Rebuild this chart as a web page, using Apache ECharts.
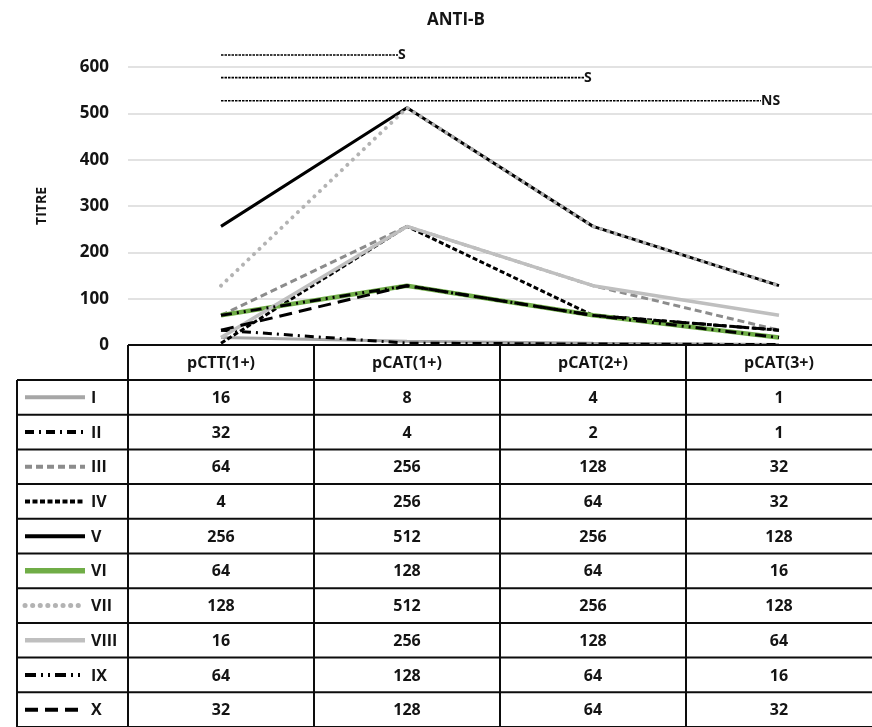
<!DOCTYPE html>
<html>
<head>
<meta charset="utf-8">
<script src="https://cdn.jsdelivr.net/npm/echarts@6/dist/echarts.min.js"></script>
<style>
  html, body { margin: 0; padding: 0; background: #fff; }
  #chart { width: 872px; height: 727px; }
</style>
</head>
<body>
<div id="chart"></div>
<script>
// Phases on the x axis
const categories = ['pCTT(1+)', 'pCAT(1+)', 'pCAT(2+)', 'pCAT(3+)'];

// Anti-B titres per subject
const seriesNames = ['I', 'II', 'III', 'IV', 'V', 'VI', 'VII', 'VIII', 'IX', 'X'];
const titreI    = [16, 8, 4, 1];
const titreII   = [32, 4, 2, 1];
const titreIII  = [64, 256, 128, 32];
const titreIV   = [4, 256, 64, 32];
const titreV    = [256, 512, 256, 128];
const titreVI   = [64, 128, 64, 16];
const titreVII  = [128, 512, 256, 128];
const titreVIII = [16, 256, 128, 64];
const titreIX   = [64, 128, 64, 16];
const titreX    = [32, 128, 64, 32];
const seriesValues = [titreI, titreII, titreIII, titreIV, titreV,
                      titreVI, titreVII, titreVIII, titreIX, titreX];

// Y axis range
const yMin = 0, yMax = 600, yStep = 100;

// Significance brackets: level on the titre scale, end phase, label
const sigLevels = [626, 577, 527];
const sigEnds   = [1, 2, 3];
const sigLabels = ['S', 'S', 'NS'];

// Line appearance per subject
const lineLooks = [
  { color: '#a6a6a6', width: 3,   type: 'solid' },
  { color: '#000000', width: 3,   type: [9, 5, 2, 5] },
  { color: '#8c8c8c', width: 3,   type: [7, 4] },
  { color: '#000000', width: 3,   type: [5, 2.5] },
  { color: '#000000', width: 3,   type: 'solid' },
  { color: '#70ad47', width: 4.5, type: 'solid' },
  { color: '#b3b3b3', width: 4,   type: [0.1, 7.5], cap: 'round' },
  { color: '#bfbfbf', width: 3.5, type: 'solid' },
  { color: '#000000', width: 3,   type: [11, 5, 2, 5, 2, 5] },
  { color: '#000000', width: 3,   type: [13, 7] }
];

const FONT = '"Open Sans", "Liberation Sans", sans-serif';
const INK = '#141414';

const chart = echarts.init(document.getElementById('chart'), null, { renderer: 'canvas' });

const option = {
  animation: false,
  backgroundColor: '#ffffff',
  title: {
    text: 'ANTI-B',
    left: 451, top: 7,
    textAlign: 'center',
    textStyle: { fontFamily: FONT, fontWeight: 'bold', fontSize: 17, color: INK }
  },
  grid: { left: 128, right: -8, top: 67, bottom: 382, containLabel: false },
  xAxis: {
    type: 'category',
    data: categories,
    boundaryGap: true,
    axisLine: { show: false },
    axisTick: { show: false },
    axisLabel: { show: false },
    splitLine: { show: false }
  },
  yAxis: {
    type: 'value',
    min: yMin, max: yMax, interval: yStep,
    name: 'TITRE',
    nameLocation: 'middle',
    nameRotate: 90,
    nameGap: 79,
    nameTextStyle: { fontFamily: FONT, fontWeight: 'bold', fontSize: 14, color: INK },
    axisLine: { show: false },
    axisTick: { show: false },
    axisLabel: { fontFamily: FONT, fontWeight: 'bold', fontSize: 17, color: INK, margin: 19 },
    splitLine: { lineStyle: { color: '#d9d9d9', width: 1.5 } }
  },
  series: seriesNames.map((name, i) => ({
    name: name,
    type: 'line',
    data: seriesValues[i],
    symbol: 'none',
    z: 2 + i,
    lineStyle: {
      color: lineLooks[i].color,
      width: lineLooks[i].width,
      type: lineLooks[i].type,
      cap: lineLooks[i].cap || 'butt'
    }
  }))
};

chart.setOption(option);

// ---- data table under the plot, aligned with the category bands ----
const W = 872, H = 727;
const px = (ci, v) => chart.convertToPixel({ gridIndex: 0 }, [ci, v]);
const centers = categories.map((c, i) => px(i, 0)[0]);
const band = centers[1] - centers[0];
const tableTop = px(0, 0)[1];
const colEdges = centers.map(c => c - band / 2);
const legendLeft = 17;
const headerH = 35;
const rowH = (H - tableTop - headerH) / seriesNames.length;
const border = { stroke: '#0d0d0d', lineWidth: 2 };
const cellFont = 'bold 16px ' + FONT;

const graphics = [];

// horizontal rules
graphics.push({ type: 'line', shape: { x1: colEdges[0], y1: tableTop, x2: W, y2: tableTop }, style: border, z: 50 });
for (let r = 0; r <= seriesNames.length; r++) {
  const y = tableTop + headerH + r * rowH;
  graphics.push({ type: 'line', shape: { x1: legendLeft, y1: y, x2: W, y2: y }, style: border, z: 50 });
}
// vertical rules
graphics.push({ type: 'line', shape: { x1: legendLeft, y1: tableTop + headerH, x2: legendLeft, y2: H }, style: border, z: 50 });
colEdges.forEach(x => {
  graphics.push({ type: 'line', shape: { x1: x, y1: tableTop, x2: x, y2: H }, style: border, z: 50 });
});

// header cells
categories.forEach((c, i) => {
  graphics.push({
    type: 'text', z: 51,
    style: { text: c, x: centers[i], y: tableTop + headerH / 2 + 1, align: 'center', verticalAlign: 'middle', font: cellFont, fill: INK }
  });
});

// value rows with legend keys
seriesNames.forEach((name, r) => {
  const cy = tableTop + headerH + r * rowH + rowH / 2;
  const look = lineLooks[r];
  graphics.push({
    type: 'line', z: 51,
    shape: { x1: 25, y1: cy, x2: 85, y2: cy },
    style: {
      stroke: look.color,
      lineWidth: look.width + 1,
      lineDash: Array.isArray(look.type) ? look.type : null,
      lineCap: look.cap || 'butt'
    }
  });
  graphics.push({
    type: 'text', z: 51,
    style: { text: name, x: 91, y: cy + 1, align: 'left', verticalAlign: 'middle', font: 'bold 16px ' + FONT, fill: INK }
  });
  seriesValues[r].forEach((v, i) => {
    graphics.push({
      type: 'text', z: 51,
      style: { text: String(v), x: centers[i], y: cy + 1, align: 'center', verticalAlign: 'middle', font: cellFont, fill: INK }
    });
  });
});

// significance brackets above the peak
sigLevels.forEach((lvl, k) => {
  const start = px(0, lvl);
  const end = px(sigEnds[k], lvl);
  const labelW = sigLabels[k].length * 9;
  graphics.push({
    type: 'line', z: 60,
    shape: { x1: start[0], y1: start[1], x2: end[0] - labelW, y2: start[1] },
    style: { stroke: '#000000', lineWidth: 1.6, lineDash: [2.5, 1] }
  });
  graphics.push({
    type: 'text', z: 60,
    style: { text: sigLabels[k], x: end[0] - labelW, y: start[1], align: 'left', verticalAlign: 'middle', font: 'bold 14px ' + FONT, fill: INK }
  });
});

chart.setOption({ graphic: graphics });
</script>
</body>
</html>
